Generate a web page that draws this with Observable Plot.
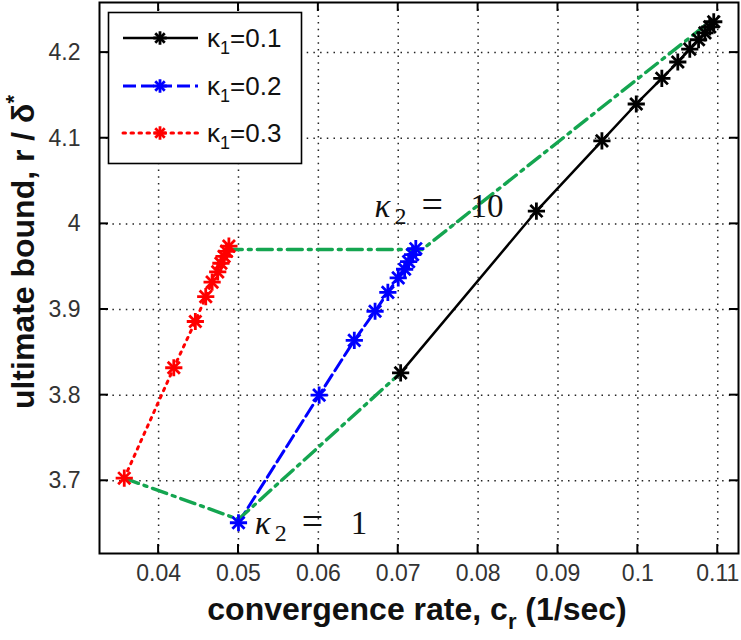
<!DOCTYPE html>
<html><head><meta charset="utf-8">
<script src="https://cdn.jsdelivr.net/npm/d3@7"></script>
<script src="https://cdn.jsdelivr.net/npm/@observablehq/plot@0.6"></script>
<style>
body{margin:0;background:#fff;}
#chart svg{display:block;}
</style></head><body><div id="chart"></div>
<script>
// ---- data ----
const xTicks = [0.04, 0.05, 0.06, 0.07, 0.08, 0.09, 0.1, 0.11];
const yTicks = [3.7, 3.8, 3.9, 4.0, 4.1, 4.2];

const k1_01_x = [0.0703, 0.0873, 0.0955, 0.0998, 0.1030, 0.1050, 0.1065, 0.1076, 0.1084, 0.1090, 0.1095];
const k1_01_y = [3.826, 4.015, 4.097, 4.140, 4.170, 4.189, 4.204, 4.215, 4.223, 4.230, 4.236];

const k1_02_x = [0.0500, 0.0601, 0.0645, 0.0671, 0.0687, 0.0700, 0.0708, 0.0713, 0.0718, 0.0722];
const k1_02_y = [3.651, 3.800, 3.864, 3.898, 3.920, 3.937, 3.947, 3.956, 3.964, 3.971];

const k1_03_x = [0.0357, 0.0419, 0.0446, 0.0459, 0.0467, 0.0474, 0.0478, 0.0482, 0.0485, 0.0488];
const k1_03_y = [3.703, 3.832, 3.886, 3.915, 3.932, 3.944, 3.954, 3.962, 3.968, 3.974];

const k2_1_x = [0.0357, 0.0500, 0.0703];
const k2_1_y = [3.703, 3.655, 3.826];
const k2_10_x = [0.0486, 0.0730, 0.1090];
const k2_10_y = [3.970, 3.970, 4.236];

const seriesLabels = ["0.1", "0.2", "0.3"];
const annoLabels = ["10", "1"];

// ---- build tables ----
const toRows = (xs, ys) => xs.map((x, i) => ({x, y: ys[i]}));
const s1 = toRows(k1_01_x, k1_01_y);
const s2 = toRows(k1_02_x, k1_02_y);
const s3 = toRows(k1_03_x, k1_03_y);
const g1 = toRows(k2_1_x, k2_1_y);
const g10 = toRows(k2_10_x, k2_10_y);

const W = 741, H = 640;
const mL = 99, mR = 3, mT = 2, mB = 87;
const GREEN = "#14a550";
const styles = [
  {stroke: "#000000", dash: null, width: 2.5},
  {stroke: "#0000ff", dash: "13,5", width: 3},
  {stroke: "#ff0000", dash: "2.5,5.5", width: 3}
];
const MR = 5.6;
const markers = (data, color) => [
  Plot.dot(data, {x: "x", y: "y", symbol: "plus", r: MR, stroke: color, strokeWidth: 2.8}),
  Plot.dot(data, {x: "x", y: "y", symbol: "times", r: MR, stroke: color, strokeWidth: 2.8})
];

const plot = Plot.plot({
  width: W, height: H,
  marginLeft: mL, marginRight: mR, marginTop: mT, marginBottom: mB,
  style: {fontFamily: "'Liberation Sans', Arial, sans-serif", fontSize: "23px", color: "#222", background: "#fff"},
  x: {domain: [0.0326, 0.1126], label: null},
  y: {domain: [3.6151, 4.2585], label: null},
  marks: [
    Plot.gridX(xTicks, {stroke: "#222", strokeOpacity: 1, strokeWidth: 1.5, strokeDasharray: "1.5,5.2"}),
    Plot.gridY(yTicks, {stroke: "#222", strokeOpacity: 1, strokeWidth: 1.5, strokeDasharray: "1.5,5.2"}),
    Plot.line(s1, {x: "x", y: "y", stroke: styles[0].stroke, strokeWidth: styles[0].width}),
    Plot.line(s2, {x: "x", y: "y", stroke: styles[1].stroke, strokeWidth: styles[1].width, strokeDasharray: styles[1].dash}),
    Plot.line(s3, {x: "x", y: "y", stroke: styles[2].stroke, strokeWidth: styles[2].width, strokeDasharray: styles[2].dash, strokeLinecap: "round"}),
    Plot.line(g1, {x: "x", y: "y", stroke: GREEN, strokeWidth: 3.4, strokeDasharray: "15,6,3,6"}),
    Plot.line(g10, {x: "x", y: "y", stroke: GREEN, strokeWidth: 3.4, strokeDasharray: "15,6,3,6"}),
    ...markers(s1, styles[0].stroke),
    ...markers(s2, styles[1].stroke),
    ...markers(s3, styles[2].stroke),
    Plot.frame({stroke: "#000", strokeWidth: 2}),
    Plot.axisX(xTicks, {tickSize: 0, tickPadding: 11, tickFormat: d => String(+d.toFixed(2)), fontSize: 23, fill: "#333"}),
    Plot.axisY(yTicks, {tickSize: 0, tickPadding: 19, tickFormat: d => String(+d.toFixed(1)), fontSize: 23, fill: "#333"})
  ]
});
document.getElementById("chart").appendChild(plot);

// ---- decorations using the plot's scales ----
const svg = d3.select(plot);
const sx = plot.scale("x"), sy = plot.scale("y");
const X0 = mL, X1 = W - mR, Y0 = mT, Y1 = H - mB;
const tg = svg.append("g").attr("stroke", "#000").attr("stroke-width", 2);
xTicks.forEach(t => {
  const p = sx.apply(t);
  tg.append("line").attr("x1", p).attr("x2", p).attr("y1", Y1).attr("y2", Y1 - 9);
  tg.append("line").attr("x1", p).attr("x2", p).attr("y1", Y0).attr("y2", Y0 + 9);
});
yTicks.forEach(t => {
  const p = sy.apply(t);
  tg.append("line").attr("y1", p).attr("y2", p).attr("x1", X0).attr("x2", X0 + 9);
  tg.append("line").attr("y1", p).attr("y2", p).attr("x1", X1).attr("x2", X1 - 9);
});

// legend
const lg = svg.append("g").attr("text-anchor", "start");
lg.append("rect").attr("x", 108.5).attr("y", 12.5).attr("width", 193).attr("height", 151)
  .attr("fill", "#fff").attr("stroke", "#000").attr("stroke-width", 1.6);
const rowsY = [38, 86, 133];
const sym = (type, r) => d3.symbol(type, r * r * Math.PI)();
seriesLabels.forEach((lab, i) => {
  const y = rowsY[i], st = styles[i];
  const ln = lg.append("line").attr("x1", 123).attr("x2", 198).attr("y1", y).attr("y2", y)
    .attr("stroke", st.stroke).attr("stroke-width", st.width);
  if (st.dash) ln.attr("stroke-dasharray", st.dash);
  if (i === 2) ln.attr("stroke-linecap", "round");
  [d3.symbolPlus, d3.symbolTimes].forEach(s => lg.append("path").attr("d", sym(s, 4.4))
    .attr("transform", `translate(160,${y})`).attr("fill", "none").attr("stroke", st.stroke).attr("stroke-width", 2.8));
  const t = lg.append("text").attr("x", 207).attr("y", y + 9).attr("text-anchor", "start")
    .attr("font-family", "'Liberation Sans', Arial, sans-serif").attr("font-size", 26).attr("fill", "#111");
  t.append("tspan").text("κ");
  t.append("tspan").attr("font-size", 18).attr("dy", 7).text("1");
  t.append("tspan").attr("dy", -7).text("=" + lab);
});

// annotations (κ2 = 10, κ2 = 1)
const annoPos = [[0.0671, 4.0074], [0.0521, 3.6378]];
annoLabels.forEach((lab, i) => {
  const px = sx.apply(annoPos[i][0]), py = sy.apply(annoPos[i][1]);
  const t = svg.append("text").attr("y", py).attr("text-anchor", "start")
    .attr("font-family", "'Liberation Serif', 'DejaVu Serif', serif")
    .attr("font-size", 33).attr("fill", "#111");
  t.append("tspan").attr("x", px).attr("font-style", "italic").text("κ");
  t.append("tspan").attr("x", px + 20).attr("dy", 7).attr("font-size", 24).text("2");
  t.append("tspan").attr("x", px + 47).attr("dy", -7).attr("font-size", 38).text("=");
  t.append("tspan").attr("x", px + 96).text(lab);
});

// axis titles
const xt = svg.append("text").attr("x", 417).attr("y", 620).attr("text-anchor", "middle")
  .attr("font-family", "'Liberation Sans', Arial, sans-serif").attr("font-size", 32).attr("font-weight", "bold").attr("fill", "#111");
xt.append("tspan").text("convergence rate, c");
xt.append("tspan").attr("font-size", 22).attr("dy", 9).text("r");
xt.append("tspan").attr("dy", -9).text(" (1/sec)");

const yt = svg.append("text").attr("transform", "translate(34,252) rotate(-90)").attr("text-anchor", "middle")
  .attr("font-family", "'Liberation Sans', Arial, sans-serif").attr("font-size", 32).attr("font-weight", "bold").attr("fill", "#111");
yt.append("tspan").text("ultimate bound, r / δ");
yt.append("tspan").attr("font-size", 22).attr("dy", -13).text("*");
</script>
</body></html>
